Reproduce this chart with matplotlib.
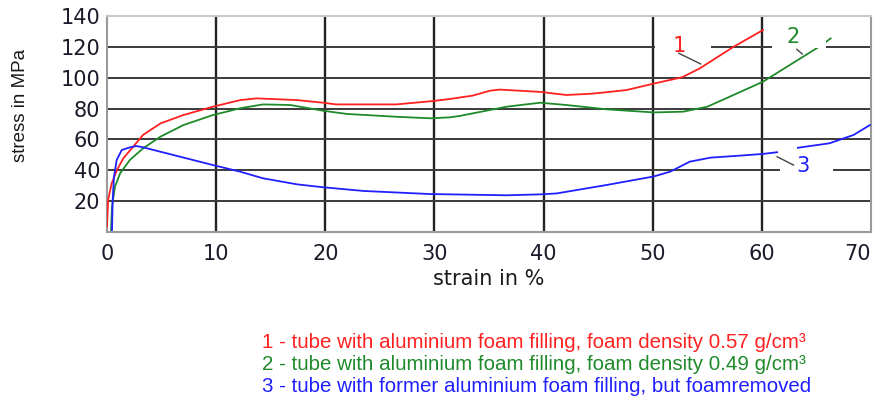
import numpy as np
import matplotlib.pyplot as plt
from matplotlib.patches import Rectangle

# curve 1: foam density 0.57 g/cm3
x1 = [0, 0.1, 0.43, 0.9, 1.5, 2.4, 3.3, 4.9, 7.0, 9.7, 12.2, 13.7, 17.4, 19.8, 21.0,
      26.5, 29.9, 31.4, 33.5, 35.1, 36.0, 39.7, 42.1, 44.3, 45.2, 47.6, 50.1, 52.7,
      54.3, 57.4, 60.1]
y1 = [3.5, 20.7, 31.5, 40, 47.8, 55.3, 62.9, 70.4, 75.8, 81.2, 85.5, 86.6, 85.5, 83.8,
      82.7, 82.7, 84.9, 86.2, 88.4, 91.6, 92.3, 90.8, 88.8, 89.6, 90.2, 92.0, 96.2,
      100.3, 106.0, 120.0, 130.9]

# curve 2: foam density 0.49 g/cm3
x2 = [0.37, 0.46, 0.73, 1.2, 2.1, 3.3, 4.9, 7.0, 9.7, 12.2, 14.3, 16.8, 19.8, 22.0,
      26.5, 29.6, 31.4, 32.3, 36.6, 39.7, 42.1, 45.8, 50.1, 52.8, 55.0, 57.4, 60.1,
      62.3, 65.0, 65.9, 66.3]
y2 = [1.3, 16.4, 29.4, 38, 46.7, 54.2, 61.8, 69.3, 75.8, 80.2, 82.7, 82.3, 78.6, 76.5,
      74.7, 73.7, 74.3, 75.2, 81.2, 83.8, 82.3, 79.5, 77.5, 78.0, 81.2, 88.8, 97.4,
      107.1, 119.0, 123.3, 125.5]

# curve 3: foam removed (gap in the line next to label 3)
x3 = [0.46, 0.52, 0.64, 0.89, 1.35, 2.1, 2.7, 3.3, 9.7, 12.2, 14.3, 17.4, 19.8, 23.5,
      29.6, 31.4, 36.6, 39.7, 41.2, 45.8, 50.1, 51.6, 53.4, 55.3, 58.0, 60.1, 61.4,
      62.3, 63.3, 66.2, 68.4, 69.9]
y3 = [1.3, 20.7, 35.8, 46.7, 53.1, 54.9, 55.7, 54.9, 43.4, 39.1, 34.8, 30.9, 29.0, 26.6,
      24.6, 24.4, 23.8, 24.4, 25.0, 30.5, 36.0, 39.1, 45.6, 48.2, 49.5, 50.6, 51.7,
      np.nan, 54.6, 57.5, 62.9, 69.3]

xticks = [0, 10, 20, 30, 40, 50, 60, 70]
yticks = [20, 40, 60, 80, 100, 120, 140]

legend_lines = [
    ('1 - tube with aluminium foam filling, foam density 0.57 g/cm³', '#ff2020'),
    ('2 - tube with aluminium foam filling, foam density 0.49 g/cm³', '#1f8a2a'),
    ('3 - tube with former aluminium foam filling, but foamremoved', '#2020ff'),
]

fig = plt.figure(figsize=(8.79, 4.01), dpi=100)
ax = fig.add_axes([107/879, 1-232/401, 764/879, 216/401])
ax.set_xlim(0, 70)
ax.set_ylim(0, 140)

for v in xticks[1:-1]:
    ax.axvline(v, color='#222222', lw=1.7, zorder=1)
for v in yticks[:-1]:
    ax.axhline(v, color='#3a3a3a', lw=1.4, zorder=1)
for s in ax.spines.values():
    s.set_color('#9a9a9a')
    s.set_linewidth(1.5)
ax.spines['top'].set_color('#c8c8c8')

ax.plot(x1, y1, color='#ff2020', lw=1.3, zorder=3)
ax.plot(x2, y2, color='#1f8a2a', lw=1.3, zorder=3)
ax.plot(x3, y3, color='#2020ff', lw=1.3, zorder=3)

# white boxes behind the curve numbers
for (bx, by, bw, bh) in [(50.2, 116, 5.1, 12), (60.9, 119.5, 5.0, 12), (61.7, 37, 4.8, 12)]:
    ax.add_patch(Rectangle((bx, by), bw, bh, facecolor='white', edgecolor='none', zorder=4))

lab_kw = dict(fontsize=15, ha='center', va='center', zorder=5)
ax.text(52.4, 120.5, '1', color='#ff2020', **lab_kw)
ax.text(62.9, 126.5, '2', color='#1f8a2a', **lab_kw)
ax.text(63.8, 43.0, '3', color='#2020ff', **lab_kw)
ax.plot([52.4, 54.4], [115.8, 108.9], color='#444444', lw=1, zorder=5)
ax.plot([63.2, 63.7], [118.4, 115.4], color='#444444', lw=1, zorder=5)
ax.plot([61.4, 62.9], [48.8, 43.4], color='#444444', lw=1, zorder=5)

ax.set_xticks(xticks)
ax.set_yticks(yticks)
ax.tick_params(length=0, labelsize=15, colors='#1a1a2a')
ax.tick_params(axis='x', pad=9)
ax.tick_params(axis='y', pad=5)
ax.get_xticklabels()[-1].set_ha('right')
ax.set_xlabel('strain in %', fontsize=15, color='#1a1a1a', labelpad=3)
fig.text(21/879, 1-105/401, 'stress in MPa', rotation=90, ha='center', va='center',
         fontsize=13.5, family=['Liberation Sans', 'DejaVu Sans'], color='#1a1a1a')

for i, (txt, c) in enumerate(legend_lines):
    fig.text(262/879, 1-(343+22*i)/401, txt, color=c, fontsize=14.8,
             family=['Liberation Sans', 'DejaVu Sans'], ha='left', va='center')

fig.savefig('out.png', dpi=100)
